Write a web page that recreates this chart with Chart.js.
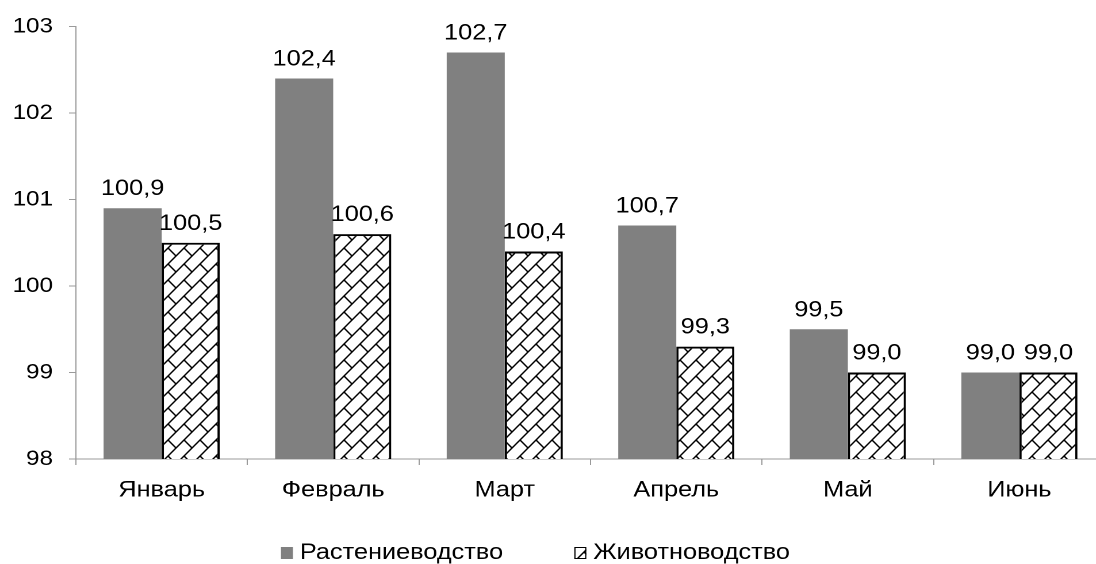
<!DOCTYPE html>
<html><head><meta charset="utf-8">
<script src="https://cdn.jsdelivr.net/npm/chart.js@4.4.1/dist/chart.umd.min.js"></script>
<style>
html,body{margin:0;padding:0;background:#fff;overflow:hidden;width:1096px;height:564px}
#wrap{position:absolute;left:0;top:0;width:962px;height:564px;transform:scaleX(1.15);transform-origin:0 0}
</style></head><body>
<div id="wrap"><canvas id="c"></canvas></div>
<script>
// ---- data ----
const categories = ['Январь', 'Февраль', 'Март', 'Апрель', 'Май', 'Июнь'];
const seriesNames = ['Растениеводство', 'Животноводство'];
const cropValues = [100.9, 102.4, 102.7, 100.7, 99.5, 99.0];
const livestockValues = [100.5, 100.6, 100.4, 99.3, 99.0, 99.0];
const yMin = 98, yMax = 103, yStep = 1;

// ---- styling ----
const SX = 1.15;
const FONT = '"Liberation Sans", Arial, sans-serif';
const AXIS = '#9a9a9a';

const canvas = document.getElementById('c');
const ctx = canvas.getContext('2d');

function makeBrick() {
  const w = 16 / SX, h = 16, r = 4;
  const cv = document.createElement('canvas');
  cv.width = Math.round(w * r); cv.height = h * r;
  const g = cv.getContext('2d');
  g.scale(cv.width / w, cv.height / h);
  g.fillStyle = '#fff'; g.fillRect(0, 0, w, h);
  g.strokeStyle = '#000'; g.lineWidth = 1.35;
  g.beginPath();
  for (let n = -1; n <= 3; n++) {
    g.moveTo(-w, h * (n + 1));
    g.lineTo(2 * w, h * (n - 2));
  }
  for (let i = -1; i <= 1; i++) for (let j = -1; j <= 1; j++) {
    g.moveTo(w / 2 + i * w, h / 2 + j * h);
    g.lineTo(w + i * w, h + j * h);
  }
  g.stroke();
  const p = ctx.createPattern(cv, 'repeat');
  p.setTransform(new DOMMatrix().scale(w / cv.width, h / cv.height));
  return p;
}
const brick = makeBrick();

const valueLabels = {
  id: 'valueLabels',
  afterDatasetsDraw(chart) {
    const c = chart.ctx;
    c.save();
    c.font = '22px ' + FONT;
    c.fillStyle = '#000';
    c.textAlign = 'center';
    c.textBaseline = 'alphabetic';
    chart.data.datasets.forEach((ds, i) => {
      chart.getDatasetMeta(i).data.forEach((el, j) => {
        c.fillText(ds.data[j].toFixed(1).replace('.', ','), el.x, el.y - 13);
      });
    });
    c.restore();
  }
};

const customLegend = {
  id: 'customLegend',
  afterDraw(chart, args, opts) {
    const c = chart.ctx;
    c.save();
    c.font = opts.fontSize + 'px ' + FONT;
    const items = chart.data.datasets.map(ds => ({ ds, tw: c.measureText(ds.label).width }));
    const bw = opts.box / SX, bh = opts.box;
    let total = 0;
    items.forEach((it, k) => { total += bw + opts.gap + it.tw + (k ? opts.itemGap : 0); });
    let x = opts.cx - total / 2;
    items.forEach(it => {
      c.fillStyle = it.ds.backgroundColor;
      c.fillRect(x, opts.cy - bh / 2, bw, bh);
      if (it.ds.borderWidth) {
        c.strokeStyle = '#000'; c.lineWidth = 1;
        c.strokeRect(x + 0.5, opts.cy - bh / 2 + 0.5, bw - 1, bh - 1);
      }
      x += bw + opts.gap;
      c.fillStyle = '#000';
      c.textBaseline = 'middle';
      c.textAlign = 'left';
      c.fillText(it.ds.label, x, opts.cy);
      x += it.tw + opts.itemGap;
    });
    c.restore();
  }
};

new Chart(ctx, {
  type: 'bar',
  data: {
    labels: categories,
    datasets: [
      { label: seriesNames[0], data: cropValues, backgroundColor: '#808080', borderWidth: 0,
        categoryPercentage: 0.677, barPercentage: 1 },
      { label: seriesNames[1], data: livestockValues, backgroundColor: brick, borderColor: '#000',
        borderWidth: 2, borderSkipped: false, categoryPercentage: 0.677, barPercentage: 1 }
    ]
  },
  options: {
    responsive: true, maintainAspectRatio: false, animation: false, devicePixelRatio: 2,
    layout: { padding: { top: 25, left: 0, right: 1, bottom: 0 } },
    plugins: {
      legend: { display: false }, tooltip: { enabled: false },
      customLegend: { cx: 465.6, cy: 553, box: 12, gap: 6, itemGap: 62, fontSize: 22 }
    },
    scales: {
      x: {
        grid: { display: true, drawOnChartArea: false, tickLength: 6, color: AXIS, offset: true },
        border: { color: AXIS, width: 1 },
        ticks: { color: '#000', font: { family: FONT, size: 22 }, padding: 12, maxRotation: 0 },
        afterFit(s) { s.height = 105; }
      },
      y: {
        min: yMin, max: yMax,
        grid: { drawOnChartArea: false, tickLength: 6, color: AXIS },
        border: { color: AXIS, width: 1 },
        ticks: { stepSize: yStep, color: '#000', font: { family: FONT, size: 21 }, padding: 14 },
        afterFit(s) { s.width = 66; }
      }
    }
  },
  plugins: [valueLabels, customLegend]
});
</script>
</body></html>
